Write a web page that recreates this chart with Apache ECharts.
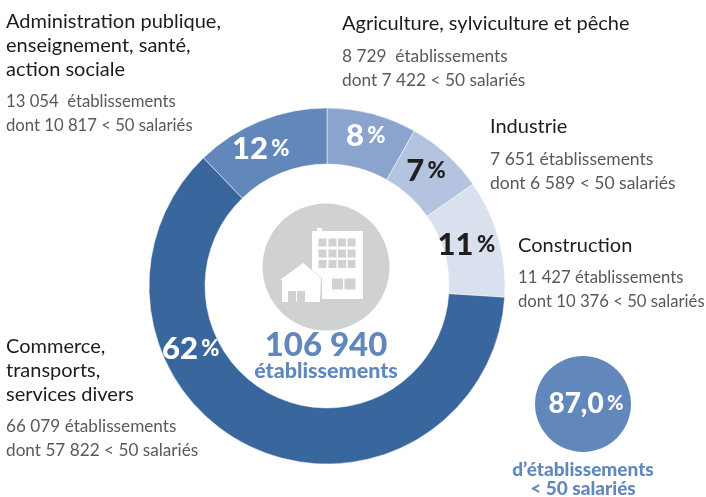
<!DOCTYPE html>
<html><head><meta charset="utf-8">
<style>html,body{margin:0;padding:0;background:#fff}#c{width:706px;height:497px}</style>
<script src="https://cdn.jsdelivr.net/npm/echarts@6/dist/echarts.min.js"></script>
</head><body><div id="c"></div>
<script>
const FONT = 'Lato';
const categories = ['Agriculture, sylviculture et pêche','Industrie','Construction','Commerce, transports, services divers','Administration publique, enseignement, santé, action sociale'];
const establishments = [8729,7651,11427,66079,13054];
const percentLabels = ['8','7','11','62','12'];
const titleLines = [['Agriculture, sylviculture et pêche'],['Industrie'],['Construction'],['Commerce,','transports,','services divers'],['Administration publique,','enseignement, santé,','action sociale']];
const detailLines = [['8 729  établissements','dont 7 422 < 50 salariés'],['7 651 établissements','dont 6 589 < 50 salariés'],['11 427 établissements','dont 10 376 < 50 salariés'],['66 079 établissements','dont 57 822 < 50 salariés'],['13 054  établissements','dont 10 817 < 50 salariés']];
const detailSizes = [17.3,17.5,16.7,17.2,16.7];
const colors = ['#8aa4ce','#b3c3e0','#d9e0ee','#38669d','#6288bb'];
const labelColors = ['#fff','#1f1f1f','#1f1f1f','#fff','#fff'];
const labelOffsets = [[0,-2],[-4,-2],[-8,0],[-72,-76],[-9,5]];
const textAnchors = [[342,24,56],[490,127,159],[518,246,278],[6,347,426],[6,22,102]];
const totalText = '106 940', totalUnit = 'établissements', shareValue = '87,0', shareLines = ['d’établissements','< 50 salariés'];

const GREY = '#d0d1d3', BLUE = '#6288bb';
const gfx = [];
const txt = (x,y,t,size,fill,weight,align) => gfx.push({type:'text',x,y,z:10,style:{text:t,font:`${weight||400} ${size}px ${FONT}`,fill,textAlign:align||'left',textVerticalAlign:'middle'}});
const rect = (x,y,w,h,fill,z) => gfx.push({type:'rect',z:z||5,shape:{x,y,width:w,height:h},style:{fill}});

titleLines.forEach((lines,i)=>{
  const [x,ty,dy] = textAnchors[i];
  lines.forEach((l,j)=>txt(x,ty+j*23.8,l,20,'#1d1d1b',400));
  detailLines[i].forEach((l,j)=>txt(x,dy+j*24,l,detailSizes[i],'#58595b',400));
});

// central icon
gfx.push({type:'circle',z:4,shape:{cx:326,cy:267,r:63.5},style:{fill:GREY}});
rect(312,231,51,68,'#fff');
rect(317,228,5,4,'#fff');
[318.5,328.5,338,347.5].forEach(x=>[238.5,249.5,260].forEach(y=>rect(x,y,8,8,GREY,6)));
rect(332,278.5,11,11,GREY,6); rect(344.5,278.5,11,11,GREY,6);
gfx.push({type:'polygon',z:7,shape:{points:[[280,280],[303,263],[322,278],[322,302],[281,302]]},style:{fill:GREY}});
gfx.push({type:'polygon',z:8,shape:{points:[[280,280],[303,263],[321,278],[320,302],[282,302],[282,280]]},style:{fill:'#fff'}});
rect(288,291,8,11,GREY,9); rect(297,291,8,11,GREY,9);

txt(326,345,totalText,33,BLUE,900,'center');
txt(326,371,totalUnit,21.5,BLUE,900,'center');

// share bubble
gfx.push({type:'circle',z:4,shape:{cx:583,cy:404,r:48},style:{fill:BLUE}});
gfx.push({type:'text',z:10,x:586,y:404,style:{text:`{a|${shareValue}} {b|%}`,align:'center',verticalAlign:'middle',textAlign:'center',textVerticalAlign:'middle',rich:{a:{font:`900 28px ${FONT}`,fill:'#fff'},b:{font:`900 20px ${FONT}`,fill:'#fff'}}}});
shareLines.forEach((l,j)=>txt(583,470+j*19,l,19,BLUE,900,'center'));

const chart = echarts.init(document.getElementById('c'),null,{renderer:'canvas'});
chart.setOption({
  animation:false,
  backgroundColor:'#fff',
  series:[{
    type:'pie',
    center:[327,286],
    radius:[122,178],
    startAngle:90,
    clockwise:true,
    silent:true,
    itemStyle:{borderColor:'#fff',borderWidth:0.5},
    labelLine:{show:false},
    data:categories.map((name,i)=>({
      name,value:establishments[i],
      itemStyle:{color:colors[i]},
      label:{
        show:true,position:'inside',offset:labelOffsets[i],
        formatter:`{a|${percentLabels[i]}} {b|%}`,
        rich:{a:{fontFamily:FONT,fontWeight:900,fontSize:31,color:labelColors[i]},b:{fontFamily:FONT,fontWeight:900,fontSize:22,color:labelColors[i]}}
      }
    }))
  }],
  graphic:{elements:gfx}
});
</script></body></html>
